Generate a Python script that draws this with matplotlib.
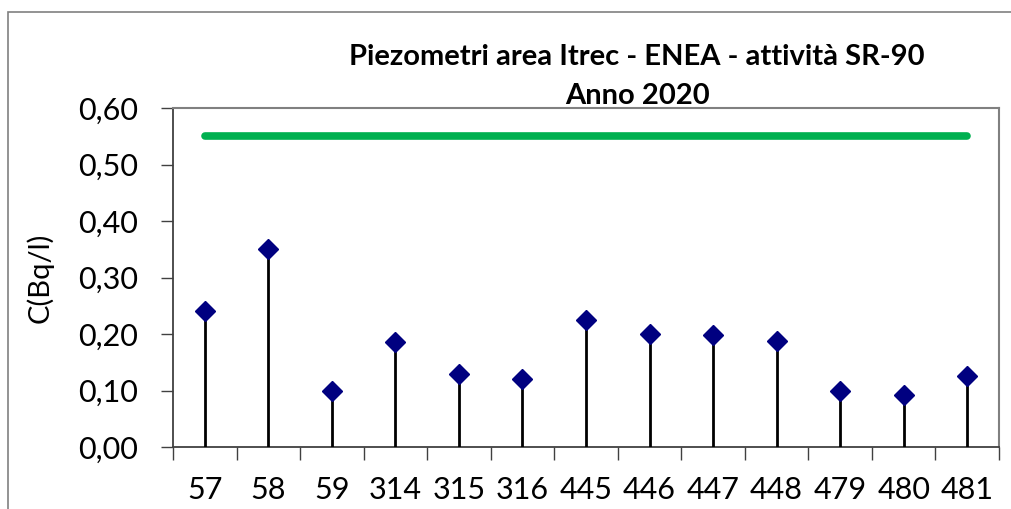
import numpy as np
import matplotlib.pyplot as plt
from matplotlib.patches import Rectangle
from matplotlib.ticker import FixedLocator, FuncFormatter

plt.rcParams['font.family'] = ['Lato', 'DejaVu Sans']

# dati
piezometri = ['57', '58', '59', '314', '315', '316', '445', '446', '447', '448', '479', '480', '481']
attivita = [0.24, 0.35, 0.10, 0.186, 0.13, 0.12, 0.225, 0.20, 0.198, 0.187, 0.10, 0.092, 0.126]
limite = 0.55

fig = plt.figure(figsize=(10.11, 5.09), dpi=100)
ax = fig.add_axes([173/1011, 62/509, (999-173)/1011, (447-108)/509])

x = np.arange(len(piezometri))

# cornice del grafico
fig.patches.append(Rectangle((8/1011, -0.1), 1.2, (509-12)/509 + 0.1,
                             transform=fig.transFigure, fill=False,
                             edgecolor='#808080', linewidth=1.2))

ax.plot([x[0], x[-1]], [limite, limite], color='#00B050', linewidth=5.5,
        solid_capstyle='round', zorder=2)
ax.vlines(x, 0, attivita, color='black', linewidth=2, zorder=3)
ax.plot(x, attivita, linestyle='none', marker='D', markersize=10,
        color='#000080', zorder=4)

ax.set_xlim(-0.5, len(piezometri) - 0.5)
ax.set_ylim(0, 0.6)
ax.set_yticks(np.arange(0, 0.61, 0.1))
ax.yaxis.set_major_formatter(FuncFormatter(lambda v, p: f'{v:.2f}'.replace('.', ',')))
ax.set_xticks(x)
ax.set_xticklabels(piezometri)
ax.xaxis.set_minor_locator(FixedLocator(np.arange(-0.5, len(piezometri), 1.0)))
ax.tick_params(axis='x', which='major', length=0, pad=21, labelsize=22)
ax.tick_params(axis='x', which='minor', length=9, width=1, color='#404040', direction='out')
ax.tick_params(axis='y', length=9, width=1, color='#404040', labelsize=22, pad=16)

for s in ['left', 'bottom']:
    ax.spines[s].set_color('#404040')
    ax.spines[s].set_linewidth(1.3)
for s in ['top', 'right']:
    ax.spines[s].set_color('#808080')
    ax.spines[s].set_linewidth(1.5)

fig.text(40/1011, 1 - 278/509, 'C(Bq/l)', rotation=90, ha='center', va='center', fontsize=21)
fig.text(637/1011, 1 - 57/509, 'Piezometri area Itrec - ENEA - attività SR-90',
         ha='center', va='center', fontsize=21, fontweight='bold')
fig.text(637/1011, 1 - 96/509, 'Anno 2020',
         ha='center', va='center', fontsize=21, fontweight='bold')

fig.savefig('out.png', dpi=100)
